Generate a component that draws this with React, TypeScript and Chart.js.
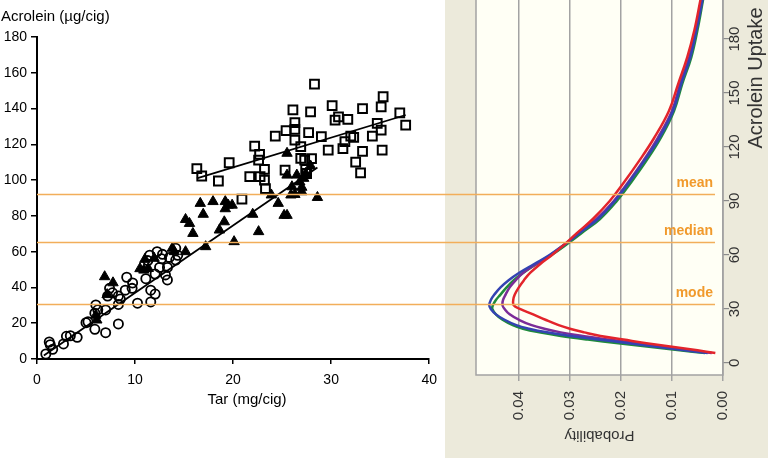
import React, { useEffect, useRef } from 'react';
import { Chart, registerables } from 'chart.js';

Chart.register(...registerables);

const FONT = "'Liberation Sans', Arial, sans-serif";

// ---- Left panel: acrolein vs tar ----
const circleTar = [0.9, 1.25, 1.35, 1.6, 2.7, 3.0, 3.4, 4.1, 5.0, 5.2, 5.9, 5.9, 6.0, 6.2, 7.0, 7.0, 7.2, 7.4, 7.7, 8.3, 8.3, 8.3, 8.5, 9.0, 9.15, 9.7, 9.75, 10.25, 11.1, 11.3, 11.5, 11.6, 11.6, 12.05, 12.05, 12.25, 12.5, 12.7, 12.8, 13.1, 13.3, 13.3, 13.5, 14.15, 14.15, 14.35];
const circleAcrolein = [2.8, 9.5, 8.0, 5.4, 8.4, 12.7, 13.0, 12.1, 20.3, 20.8, 16.6, 25.6, 30.2, 27.5, 27.4, 14.7, 35.2, 39.5, 37.0, 19.6, 35.2, 30.5, 33.5, 38.5, 45.7, 39.5, 42.5, 31.2, 44.9, 55.0, 58.0, 38.5, 31.9, 36.3, 47.5, 60.0, 51.2, 56.0, 58.5, 47.0, 44.2, 51.2, 56.8, 55.3, 61.9, 58.0];

const triangleTar = [6.1, 6.0, 6.9, 7.15, 7.75, 10.5, 10.9, 11.0, 11.35, 11.95, 13.8, 14.0, 15.15, 15.15, 15.55, 15.9, 16.65, 16.95, 17.2, 17.95, 18.6, 19.1, 19.2, 19.2, 19.5, 19.9, 20.1, 22.0, 22.6, 23.9, 24.6, 25.2, 25.5, 25.9, 26.0, 25.5, 25.5, 26.5, 27.0, 26.8, 27.2, 27.4, 27.9, 28.6, 27.0, 26.3];
const triangleAcrolein = [21.8, 24.5, 46.0, 36.0, 42.6, 50.5, 49.7, 55.7, 50.6, 56.3, 61.9, 60.0, 60.0, 78.0, 75.8, 70.2, 87.0, 80.9, 62.8, 88.0, 72.1, 76.7, 88.0, 84.0, 86.0, 86.0, 65.6, 80.9, 71.2, 91.7, 87.0, 80.3, 80.3, 91.7, 96.3, 102.8, 115.0, 102.8, 93.5, 99.0, 101.0, 103.7, 107.9, 90.3, 96.0, 92.0];

const squareTar = [16.3, 16.8, 18.5, 19.6, 20.9, 21.7, 22.2, 22.7, 22.6, 22.75, 23.2, 23.2, 23.3, 24.3, 25.4, 26.1, 26.3, 26.3, 26.3, 25.3, 26.9, 26.9, 28.3, 27.9, 27.7, 29.0, 30.1, 30.4, 30.75, 31.7, 33.2, 35.1, 35.3, 37.0, 37.6, 34.7, 35.1, 34.2, 32.0, 32.3, 31.4, 31.2, 33.2, 35.2, 29.7, 32.5, 33.0, 27.3, 28.0, 27.4, 27.5];
const squareAcrolein = [106.4, 102.3, 99.5, 109.7, 89.4, 101.9, 119.0, 114.4, 111.2, 102.0, 106.0, 100.0, 95.3, 124.6, 127.6, 139.2, 132.1, 128.3, 122.4, 105.6, 118.7, 112.2, 153.7, 138.2, 126.5, 124.3, 141.6, 133.5, 135.4, 134.0, 140.0, 141.0, 146.6, 137.6, 130.8, 131.7, 128.0, 124.6, 124.6, 123.9, 121.5, 117.6, 116.0, 116.8, 116.8, 110.1, 104.1, 111.2, 112.0, 106.0, 103.7];

const lowerTrendTar = [0.7, 28.6];
const lowerTrendAcrolein = [2.0, 107.0];
const upperTrendTar = [16.3, 37.6];
const upperTrendAcrolein = [101.0, 136.4];

const xTickStep = 10;
const yTickStep = 20;

// ---- Statistic lines ----
const statNames = ['mean', 'median', 'mode'];
const statValues = [92.5, 65.4, 30.5];

// ---- Right panel: probability densities ----
const uptakeLevels = [5.5, 7, 9, 11, 13, 15, 17, 19, 21, 24, 27, 30, 32, 35, 38, 42, 46, 50, 55, 60, 66, 72, 80, 90, 100, 112, 125, 140, 155, 170, 185, 202];
const probBlue = [0.0030, 0.0075, 0.0130, 0.0185, 0.0245, 0.0298, 0.0345, 0.0380, 0.0405, 0.0428, 0.0445, 0.0455, 0.0458, 0.0455, 0.0448, 0.0436, 0.0420, 0.0400, 0.0370, 0.0340, 0.0310, 0.0282, 0.0245, 0.0212, 0.0185, 0.0155, 0.0125, 0.0098, 0.0082, 0.0064, 0.0052, 0.0040];
const probGreen = [0.0035, 0.0085, 0.0145, 0.0205, 0.0265, 0.0318, 0.0360, 0.0392, 0.0412, 0.0432, 0.0445, 0.0452, 0.0451, 0.0445, 0.0436, 0.0424, 0.0410, 0.0392, 0.0365, 0.0336, 0.0306, 0.0278, 0.0241, 0.0208, 0.0181, 0.0151, 0.0122, 0.0096, 0.0080, 0.0062, 0.0050, 0.0039];
const probPurple = [0.0022, 0.0065, 0.0118, 0.0170, 0.0225, 0.0275, 0.0318, 0.0350, 0.0375, 0.0400, 0.0418, 0.0428, 0.0432, 0.0431, 0.0426, 0.0418, 0.0406, 0.0392, 0.0366, 0.0338, 0.0310, 0.0283, 0.0248, 0.0214, 0.0187, 0.0157, 0.0128, 0.0100, 0.0084, 0.0066, 0.0053, 0.0041];
const probRed = [0.0015, 0.0050, 0.0100, 0.0150, 0.0195, 0.0240, 0.0272, 0.0300, 0.0322, 0.0348, 0.0372, 0.0398, 0.0410, 0.0411, 0.0408, 0.0400, 0.0390, 0.0378, 0.0358, 0.0335, 0.0310, 0.0287, 0.0255, 0.0222, 0.0195, 0.0165, 0.0135, 0.0106, 0.0088, 0.0070, 0.0056, 0.0044];

const probTickStep = 0.01;
const uptakeTickStep = 30;

const pts = (xs: number[], ys: number[]) => xs.map((x, i) => ({ x, y: ys[i] }));
const curve = (probs: number[]) => uptakeLevels.map((u, i) => ({ x: probs[i], y: u }));

const ORANGE_LINE = '#F2AE5A';
const ORANGE_TEXT = '#F19A2C';

export default function App() {
  const leftRef = useRef<HTMLCanvasElement>(null);
  const rightRef = useRef<HTMLCanvasElement>(null);

  useEffect(() => {
    const left = new Chart(leftRef.current as HTMLCanvasElement, {
      type: 'scatter',
      data: {
        datasets: [
          { label: 'lowerTrend', data: pts(lowerTrendTar, lowerTrendAcrolein), showLine: true, borderColor: '#000', borderWidth: 1.8, pointRadius: 0, order: 0 } as any,
          { label: 'upperTrend', data: pts(upperTrendTar, upperTrendAcrolein), showLine: true, borderColor: '#000', borderWidth: 1.8, pointRadius: 0, order: 0 } as any,
          { label: 'circles', data: pts(circleTar, circleAcrolein), pointStyle: 'circle', pointRadius: 4.6, borderColor: '#000', borderWidth: 1.8, backgroundColor: 'rgba(255,255,255,0)', order: 2 },
          { label: 'triangles', data: pts(triangleTar, triangleAcrolein), pointStyle: 'triangle', pointRadius: 6, borderColor: '#000', borderWidth: 1, backgroundColor: '#000', order: 1 },
          { label: 'squares', data: pts(squareTar, squareAcrolein), pointStyle: 'rect', pointRadius: 6.2, borderColor: '#000', borderWidth: 2, backgroundColor: 'rgba(255,255,255,0)', order: 1 },
        ],
      },
      options: {
        responsive: false,
        animation: false,
        devicePixelRatio: 1,
        layout: { padding: { left: 0, right: 13, top: 37, bottom: 0 } },
        plugins: { legend: { display: false }, tooltip: { enabled: false } },
        scales: {
          x: {
            type: 'linear', min: 0, max: 40,
            ticks: { stepSize: xTickStep, color: '#000', font: { family: FONT, size: 14 }, padding: 8 },
            grid: { drawOnChartArea: false, tickLength: 5, color: '#000', lineWidth: 1.5 },
            border: { color: '#000', width: 2 },
            afterFit: (s: any) => { s.height = 99; },
          },
          y: {
            type: 'linear', min: 0, max: 180,
            ticks: { stepSize: yTickStep, color: '#000', font: { family: FONT, size: 14 }, padding: 4 },
            grid: { drawOnChartArea: false, tickLength: 6, color: '#000', lineWidth: 1.5 },
            border: { color: '#000', width: 2 },
            afterFit: (s: any) => { s.width = 37; },
          },
        },
      },
      plugins: [
        {
          id: 'leftDecor',
          afterDatasetsDraw(c: any) {
            const ctx = c.ctx;
            const ys = c.scales.y;
            ctx.save();
            ctx.strokeStyle = ORANGE_LINE;
            ctx.lineWidth = 1.6;
            statValues.forEach((v) => {
              const py = Math.round(ys.getPixelForValue(v)) + 0.5;
              ctx.beginPath();
              ctx.moveTo(c.chartArea.left, py);
              ctx.lineTo(c.width, py);
              ctx.stroke();
            });
            ctx.fillStyle = '#000';
            ctx.font = `15px ${FONT}`;
            ctx.textBaseline = 'middle';
            ctx.textAlign = 'left';
            ctx.fillText('Acrolein (µg/cig)', 1, 17);
            ctx.textAlign = 'center';
            ctx.fillText('Tar (mg/cig)', 247, 400);
            ctx.restore();
          },
        },
      ],
    });

    const right = new Chart(rightRef.current as HTMLCanvasElement, {
      type: 'scatter',
      data: {
        datasets: [
          { label: 'red', data: curve(probRed), showLine: true, borderColor: '#E3242B', borderWidth: 2.5, pointRadius: 0, tension: 0.4, order: 1 } as any,
          { label: 'blue', data: curve(probBlue), showLine: true, borderColor: '#3443B2', borderWidth: 2.5, pointRadius: 0, tension: 0.4, order: 2 } as any,
          { label: 'purple', data: curve(probPurple), showLine: true, borderColor: '#7B2C98', borderWidth: 2.5, pointRadius: 0, tension: 0.4, order: 3 } as any,
          { label: 'green', data: curve(probGreen), showLine: true, borderColor: '#1F8B3B', borderWidth: 2.5, pointRadius: 0, tension: 0.4, order: 4 } as any,
        ],
      },
      options: {
        responsive: false,
        animation: false,
        devicePixelRatio: 1,
        layout: { padding: { left: 31, right: 0, top: 0, bottom: 0 } },
        plugins: { legend: { display: false }, tooltip: { enabled: false } },
        scales: {
          x: {
            type: 'linear', reverse: true, min: 0, max: 0.0484,
            ticks: {
              stepSize: probTickStep, includeBounds: false, minRotation: 90, maxRotation: 90, autoSkip: false,
              color: '#333', font: { family: FONT, size: 15 }, padding: 10,
              callback: (v: any) => Number(v).toFixed(2),
            },
            grid: { color: '#A3A3A3', lineWidth: 1.5, tickLength: 6, drawTicks: true },
            border: { display: false },
            afterFit: (s: any) => { s.height = 83; },
          },
          y: {
            type: 'linear', position: 'right', min: -6.7, max: 201.7,
            ticks: { stepSize: uptakeTickStep, includeBounds: false, display: false },
            grid: { drawOnChartArea: false, tickLength: 6, color: '#8A8A8A', lineWidth: 1.2 },
            border: { display: false },
            afterFit: (s: any) => { s.width = 45; },
          },
        },
      },
      plugins: [
        {
          id: 'rightDecor',
          beforeDraw(c: any) {
            const ctx = c.ctx;
            const a = c.chartArea;
            ctx.save();
            ctx.fillStyle = '#ECEADB';
            ctx.fillRect(0, 0, c.width, c.height);
            ctx.fillStyle = '#FFFFF5';
            ctx.fillRect(a.left, a.top, a.right - a.left, a.bottom - a.top);
            ctx.restore();
          },
          afterDatasetsDraw(c: any) {
            const ctx = c.ctx;
            const a = c.chartArea;
            ctx.save();
            ctx.strokeStyle = '#A3A3A3';
            ctx.lineWidth = 1.5;
            ctx.beginPath();
            ctx.moveTo(a.left, a.top - 5);
            ctx.lineTo(a.left, a.bottom);
            ctx.lineTo(a.right, a.bottom);
            ctx.lineTo(a.right, a.top - 5);
            ctx.stroke();
            ctx.strokeStyle = ORANGE_LINE;
            ctx.lineWidth = 1.6;
            ctx.fillStyle = ORANGE_TEXT;
            ctx.font = `bold 14px ${FONT}`;
            ctx.textAlign = 'right';
            ctx.textBaseline = 'middle';
            statValues.forEach((v, i) => {
              const py = Math.round(left.scales.y.getPixelForValue(v)) + 0.5;
              ctx.beginPath();
              ctx.moveTo(0, py);
              ctx.lineTo(a.right - 8, py);
              ctx.stroke();
              ctx.fillText(statNames[i], a.right - 10, py - 11);
            });
            const ys = c.scales.y;
            ctx.fillStyle = '#333';
            ctx.font = `15px ${FONT}`;
            ctx.textAlign = 'center';
            ys.ticks.forEach((t: any) => {
              const py = ys.getPixelForValue(t.value);
              ctx.save();
              ctx.translate(a.right + 12, py);
              ctx.rotate(-Math.PI / 2);
              ctx.fillText(String(t.value), 0, 0);
              ctx.restore();
            });
            ctx.save();
            ctx.font = `20px ${FONT}`;
            ctx.translate(a.right + 33, 78);
            ctx.rotate(-Math.PI / 2);
            ctx.fillText('Acrolein Uptake', 0, 0);
            ctx.restore();
            ctx.save();
            ctx.font = `15px ${FONT}`;
            ctx.translate((a.left + a.right) / 2, 435);
            ctx.rotate(Math.PI);
            ctx.fillText('Probability', 0, 0);
            ctx.restore();
            ctx.restore();
          },
        },
      ],
    });

    return () => {
      right.destroy();
      left.destroy();
    };
  }, []);

  return (
    <div style={{ position: 'absolute', left: 0, top: 0, width: 768, height: 458, background: '#fff', overflow: 'hidden' }}>
      <canvas ref={leftRef} width={445} height={458} style={{ position: 'absolute', left: 0, top: 0, display: 'block' }} />
      <canvas ref={rightRef} width={323} height={458} style={{ position: 'absolute', left: 445, top: 0, display: 'block' }} />
    </div>
  );
}
